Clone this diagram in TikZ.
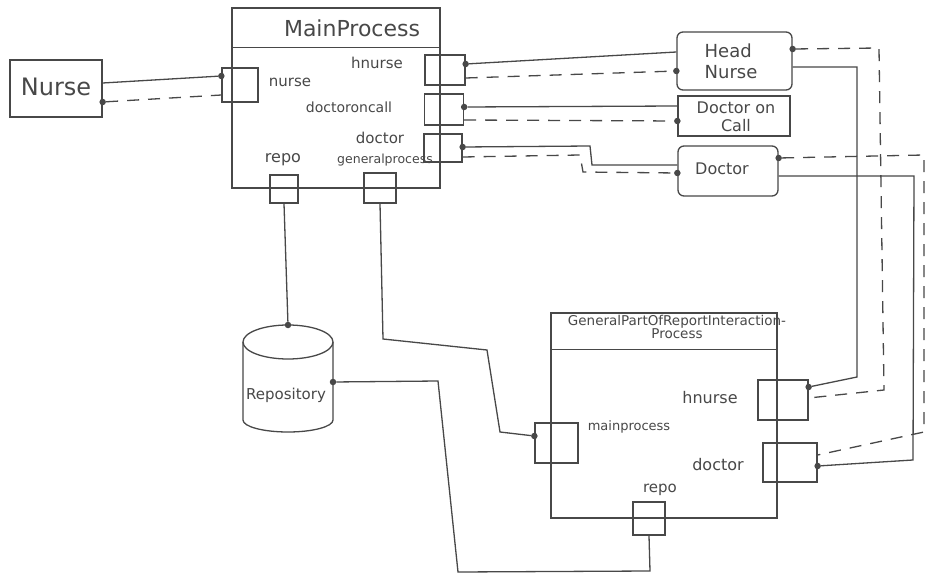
\documentclass[tikz,border=0pt]{standalone}
\usepackage{fontspec}
\setmainfont{DejaVu Sans}
\usetikzlibrary{calc}
\definecolor{ink}{HTML}{484848}
\tikzset{
  box/.style={draw=ink, line width=1.3pt, rectangle, inner sep=0pt},
  rbox/.style={box, rounded corners=6pt},
  portbox/.style={draw=ink, line width=1.3pt, rectangle, inner sep=0pt},
  wire/.style={draw=ink, line width=1.3pt},
  dwire/.style={wire, dash pattern=on 12pt off 9pt},
  pin/.style={circle, fill=ink, inner sep=0pt, minimum size=6.5pt},
  lbl/.style={text=ink, inner sep=0pt},
  fs/.style={font=\fontsize{#1}{#1}\selectfont},
}
\begin{document}
\begin{tikzpicture}[x=1pt,y=-1pt]
\useasboundingbox[fill=white] (0,0) rectangle (927,575);

% ---------- Nurse ----------
\node[box, minimum width=92pt, minimum height=57pt] (nurse) at (56,88.5) {};
\node[lbl, fs=24] (nursetxt) at (56,87) {Nurse};

% ---------- MainProcess ----------
\node[box, minimum width=208pt, minimum height=180pt] (main) at (336,98) {};
\draw[wire] ($(main.north west)+(0,40)$) -- ($(main.north east)+(0,40)$);
\node[lbl, fs=22] (maintitle) at (352,28) {MainProcess};
\node[lbl, fs=15] (lnurse) at (290,82) {nurse};
\node[lbl, fs=15] (lhnurse) at (377,63) {hnurse};
\node[lbl, fs=14] (ldoc) at (349,107) {doctoroncall};
\node[lbl, fs=15] (ldoctor) at (380,138) {doctor};
\node[lbl, fs=12.5] (lgen) at (385,160) {generalprocess};
\node[lbl, fs=16] (lrepo) at (283,160) {repo};

% ports of MainProcess
\node[portbox, minimum width=36pt, minimum height=34pt] (pnurse) at (240,85) {};
\node[portbox, minimum width=40pt, minimum height=30pt] (phn) at (445,70) {};
\node[portbox, minimum width=39pt, minimum height=31pt] (pdoc) at (444,109.5) {};
\node[portbox, minimum width=38pt, minimum height=28pt] (pdr) at (443,148) {};
\node[portbox, minimum width=28pt, minimum height=28pt] (prepo) at (284,189) {};
\node[portbox, minimum width=32pt, minimum height=30pt] (pgen) at (380,188) {};

% ---------- Head Nurse / Doctor on Call / Doctor ----------
\node[rbox, minimum width=115pt, minimum height=58pt] (hn) at (734.5,61) {};
\node[lbl, font=\fontsize{18}{21}\selectfont, align=left] (hntxt) at (731,61) {Head\\Nurse};
\node[box, minimum width=112pt, minimum height=40pt] (doc) at (734,116) {};
\node[lbl, font=\fontsize{16}{18}\selectfont, align=center] (doctxt) at (736,117) {Doctor on\\Call};
\node[rbox, minimum width=100pt, minimum height=50pt] (dr) at (728,171) {};
\node[lbl, fs=16] (drtxt) at (722,169) {Doctor};

% ---------- Repository (cylinder) ----------
\draw[wire] (288,342) ellipse [x radius=45, y radius=17];
\draw[wire] (243,342) -- (243,420) arc [start angle=180, end angle=0, x radius=45, y radius=12] -- (333,342);
\coordinate (repotop) at (288,325);
\coordinate (repoeast) at (333,382);
\node[lbl, fs=15] (repotxt) at (286,395) {Repository};

% ---------- GeneralPartOfReportInteractionProcess ----------
\node[box, minimum width=226pt, minimum height=205pt] (gp) at (664,415.5) {};
\draw[wire] ($(gp.north west)+(0,37)$) -- ($(gp.north east)+(0,37)$);
\node[lbl, font=\fontsize{13.5}{13}\selectfont, align=center] (gptitle) at (677,327)
  {GeneralPartOfReportInteraction-\\Process};
\node[lbl, fs=16] (ghnl) at (710,398) {hnurse};
\node[lbl, fs=16] (gdrl) at (718,465) {doctor};
\node[lbl, fs=13] (gmpl) at (629,427) {mainprocess};
\node[lbl, fs=15] (grl) at (660,490) {repo};
\node[portbox, minimum width=50pt, minimum height=40pt] (ghn) at (783,400) {};
\node[portbox, minimum width=54pt, minimum height=39pt] (gdr) at (790,462.5) {};
\node[portbox, minimum width=43pt, minimum height=40pt] (gmp) at (556.5,443) {};
\node[portbox, minimum width=32pt, minimum height=33pt] (grepo) at (649,518.5) {};

% ---------- pins ----------
\node[pin] (k1) at (pnurse.west |- 0,76) {};
\node[pin] (k2) at (nurse.east |- 0,102) {};
\node[pin] (k3) at (phn.east |- 0,64) {};
\node[pin] (k4) at (hn.west |- 0,71) {};
\node[pin] (k5) at (hn.east |- 0,49) {};
\node[pin] (k6) at (pdoc.east |- 0,107) {};
\node[pin] (k7) at (doc.west |- 0,121) {};
\node[pin] (k8) at (pdr.east |- 0,147) {};
\node[pin] (k9) at (dr.west |- 0,173) {};
\node[pin] (k10) at (dr.east |- 0,158) {};
\node[pin] (k11) at (ghn.east |- 0,387) {};
\node[pin] (k12) at (gdr.east |- 0,466) {};
\node[pin] (k13) at (gmp.west |- 0,436) {};
\node[pin] (k14) at (repotop) {};
\node[pin] (k15) at (repoeast) {};

% free ends and bends
\coordinate (n1) at (nurse.east |- 0,83);
\coordinate (h1) at (phn.east |- 0,78);
\coordinate (h2) at (hn.west |- 0,52);
\coordinate (h3) at (hn.east |- 0,67);
\coordinate (d1) at (pdoc.east |- 0,120);
\coordinate (d2) at (doc.west |- 0,106);
\coordinate (r1) at (pdr.east |- 0,157);
\coordinate (r2) at (dr.west |- 0,165);
\coordinate (r3) at (dr.east |- 0,176);
\coordinate (g1) at (ghn.east |- 0,398);
\coordinate (g2) at (gdr.east |- 0,455);

% ---------- connectors ----------
% Nurse <-> MainProcess.nurse
\draw[wire] (n1) -- (k1);
\draw[dwire] (k2) -- (pnurse.west |- 0,95);

% MainProcess.hnurse <-> Head Nurse
\draw[wire] (k3) -- (h2);
\draw[dwire] (h1) -- (k4);
% MainProcess.doctoroncall <-> Doctor on Call
\draw[wire] (k6) -- (d2);
\draw[dwire] (d1) -- (k7);
% MainProcess.doctor <-> Doctor
\draw[wire] (k8) -- (590,146) -- (592,165) -- (r2);
\draw[dwire] (r1) -- (580,155) -- (583,172) -- (k9);

% Head Nurse <-> hnurse port
\draw[wire] (h3) -- (857,67) -- (857,377) -- (k11);
\draw[dwire] (k5) -- (879,48) -- (884,390) -- (g1);
% Doctor <-> doctor port
\draw[wire] (r3) -- (914,176) -- (913,460) -- (k12);
\draw[dwire] (k10) -- (924,155) -- (924,432) -- (g2);

% MainProcess.repo <-> Repository
\draw[wire] (prepo.south) -- (k14);
% MainProcess.generalprocess <-> mainprocess port
\draw[wire] (pgen.south) -- (383,339) -- (487,350) -- (500,432) -- (k13);
% Repository <-> repo port
\draw[wire] (k15) -- (438,381) -- (458,572) -- (650,571) -- (grepo.south);
\end{tikzpicture}
\end{document}
